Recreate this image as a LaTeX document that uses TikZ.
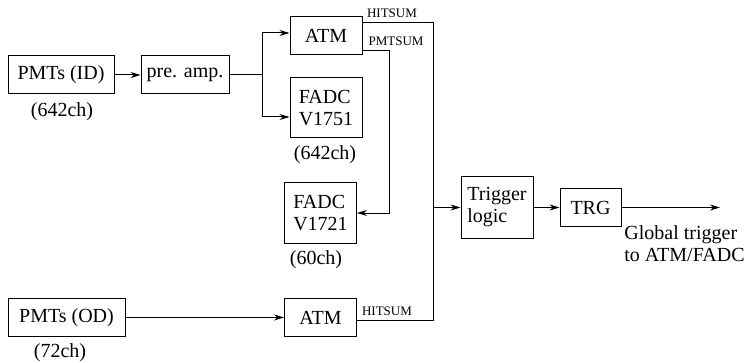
\documentclass[tikz,border=0pt]{standalone}
\usepackage{fontspec}
\setmainfont{Liberation Serif}
\usetikzlibrary{arrows.meta}

\begin{document}
\begin{tikzpicture}[x=0.5pt, y=-0.5pt, font=\fontsize{10}{11}\selectfont,
  blk/.style={draw, line width=0.5pt, align=left, inner xsep=2pt, minimum height=19pt},
  arr/.style={line width=0.5pt, -{Stealth[length=5pt,width=3pt]}},
  wire/.style={line width=0.5pt},
  tag/.style={font=\fontsize{6.5}{7}\selectfont, inner sep=0pt}]
  \useasboundingbox (0,0) rectangle (748,363);
  % inner detector
  \node[blk, minimum width=53pt] (pmtid) at (61,75) {PMTs (ID)};
  \node[blk, minimum width=44pt] (preamp) at (185,75) {pre. amp.};
  \node[blk, minimum width=36pt] (atmid) at (326,36) {ATM};
  \node[blk, minimum width=36pt, minimum height=30pt] (fadcid) at (326,108) {FADC\\V1751};
  \node[blk, minimum width=36pt, minimum height=30pt] (fadcpm) at (320.5,213) {FADC\\V1721};
  % outer detector
  \node[blk, minimum width=58.5pt] (pmtod) at (66.5,317.5) {PMTs (OD)};
  \node[blk, minimum width=36pt] (atmod) at (320.5,317.5) {ATM};
  % trigger
  \node[blk, minimum width=36pt, minimum height=30.5pt] (trig) at (497,207.5) {Trigger\\logic};
  \node[blk, minimum width=30.5pt] (trg) at (590.5,207.5) {TRG};
  \node[align=left, anchor=west, inner sep=0pt] (glob) at (624,244) {Global trigger\\to ATM/FADC};

  % channel counts
  \node (chid) at (62,112) {(642ch)};
  \node (chfadc) at (325,155) {(642ch)};
  \node (chpm) at (316,260) {(60ch)};
  \node (chod) at (60,353) {(72ch)};

  % signal names
  \node[tag] (hitid) at (392,13) {HITSUM};
  \node[tag] (pmsum) at (396,41) {PMTSUM};
  \node[tag] (hitod) at (387,311) {HITSUM};

  \coordinate (split) at (262,75);
  \coordinate (sumbus) at (433,207.5);
  \coordinate (pmturn) at (389,213);
  \coordinate (out) at (720,207.5);

  \draw[arr] (pmtid) -- (preamp);
  \draw[wire] (preamp) -- (split);
  \draw[arr] (split) |- ([yshift=1.5pt]atmid.west);
  \draw[arr] (split) |- ([yshift=-4.5pt]fadcid.west);
  \draw[wire] ([yshift=6.5pt]atmid.east) -| (sumbus);
  \draw[wire] ([yshift=-1.25pt]atmod.east) -| (sumbus);
  \draw[arr] (sumbus) -- (trig);
  \draw[arr] ([yshift=-7.5pt]atmid.east) -| (pmturn) -- (fadcpm);
  \draw[arr] (pmtod) -- (atmod);
  \draw[arr] (trig) -- (trg);
  \draw[arr] (trg) -- (out);
\end{tikzpicture}
\end{document}
